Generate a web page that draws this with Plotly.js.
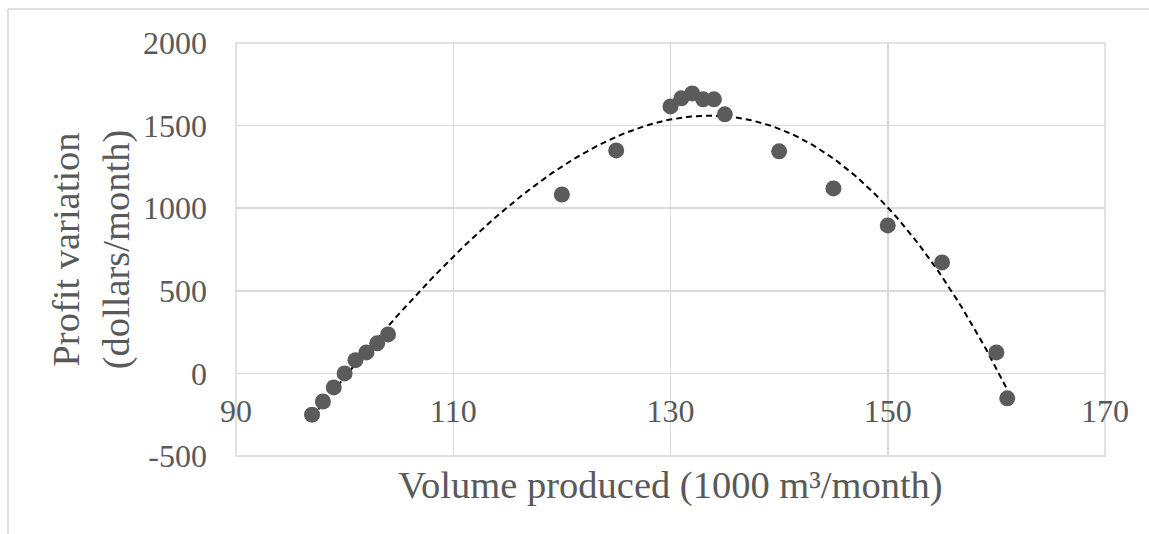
<!DOCTYPE html>
<html>
<head>
<meta charset="utf-8">
<script src="https://cdn.plot.ly/plotly-3.0.1.min.js"></script>
<style>
  html, body { margin: 0; padding: 0; background: #ffffff; }
  #chart { width: 1149px; height: 534px; }
</style>
</head>
<body>
<div id="chart"></div>
<script>
// Data
const volume = [97, 98, 99, 100, 101, 102, 103, 104, 120, 125, 130, 131, 132, 133, 134, 135, 140, 145, 150, 155, 160, 161];
const profit = [-250, -170, -85, 0, 80, 127, 182, 236, 1083, 1350, 1616, 1665, 1695, 1659, 1659, 1568, 1344, 1120, 896, 672, 127, -151];
const xTicks = [90, 110, 130, 150, 170];
const yTicks = [-500, 0, 500, 1000, 1500, 2000];
const xTitle = 'Volume produced (1000 m³/month)';
const yTitle = 'Profit variation<br>(dollars/month)';
const trendOrder = 3;

// Polynomial least-squares trendline computed from the data
function polyFit(xs, ys, order) {
  const c = 130, s = 30;
  const n = order + 1;
  const A = Array.from({length: n}, () => new Array(n + 1).fill(0));
  xs.forEach((x, k) => {
    const t = (x - c) / s;
    const p = [];
    for (let i = 0; i < n; i++) p.push(Math.pow(t, i));
    for (let i = 0; i < n; i++) {
      for (let j = 0; j < n; j++) A[i][j] += p[i] * p[j];
      A[i][n] += p[i] * ys[k];
    }
  });
  for (let i = 0; i < n; i++) {
    let m = i;
    for (let r = i + 1; r < n; r++) if (Math.abs(A[r][i]) > Math.abs(A[m][i])) m = r;
    [A[i], A[m]] = [A[m], A[i]];
    for (let r = 0; r < n; r++) {
      if (r === i) continue;
      const f = A[r][i] / A[i][i];
      for (let j = i; j <= n; j++) A[r][j] -= f * A[i][j];
    }
  }
  const coef = A.map((row, i) => row[n] / row[i]);
  return x => { const t = (x - c) / s; let v = 0; for (let i = n - 1; i >= 0; i--) v = v * t + coef[i]; return v; };
}
const f = polyFit(volume, profit, trendOrder);
const xmin = Math.min(...volume), xmax = Math.max(...volume);
const tx = [], ty = [];
for (let i = 0; i <= 200; i++) { const x = xmin + (xmax - xmin) * i / 200; tx.push(x); ty.push(f(x)); }

const gridC = '#d9d9d9';
const txtC = '#595959';
const fontFam = '"Liberation Serif", "Times New Roman", serif';

const traces = [
  {
    x: tx, y: ty, type: 'scatter', mode: 'lines',
    line: {color: '#000000', width: 2, dash: '6px,4px'},
    hoverinfo: 'skip', showlegend: false
  },
  {
    x: volume, y: profit, type: 'scatter', mode: 'markers',
    marker: {color: '#5b5b5b', size: 16, line: {width: 0}},
    showlegend: false
  }
];

const layout = {
  width: 1149, height: 534,
  margin: {l: 236, r: 44, t: 43, b: 78},
  paper_bgcolor: '#ffffff', plot_bgcolor: '#ffffff',
  font: {family: fontFam, color: txtC, size: 32},
  showlegend: false,
  xaxis: {
    range: [90, 170], tickvals: xTicks, ticktext: xTicks.map(String),
    anchor: 'free', position: 0.2,
    showgrid: true, gridcolor: gridC, gridwidth: 1.5,
    zeroline: false, showline: false, ticks: '',
    ticklabelstandoff: 16,
    tickfont: {size: 32, color: txtC, family: fontFam},
    title: {text: xTitle, font: {size: 38.5, color: txtC, family: fontFam}, standoff: 42},
    automargin: false
  },
  yaxis: {
    range: [-500, 2000], tickvals: yTicks, ticktext: yTicks.map(String),
    showgrid: true, gridcolor: gridC, gridwidth: 1.5,
    zeroline: false, showline: false, ticks: '',
    ticklabelstandoff: 28,
    tickfont: {size: 32, color: txtC, family: fontFam},
    title: {text: yTitle, font: {size: 38.5, color: txtC, family: fontFam}, standoff: 1},
    automargin: false
  },
  shapes: [
    {type: 'rect', xref: 'paper', yref: 'paper', x0: 0, x1: 1, y0: 0, y1: 1,
     line: {color: gridC, width: 1.5}, layer: 'below'},
    {type: 'line', xref: 'paper', yref: 'paper', x0: -0.2624, x1: 1.06, y0: 1.0823, y1: 1.0823,
     line: {color: gridC, width: 1.5}},
    {type: 'line', xref: 'paper', yref: 'paper', x0: -0.2624, x1: -0.2624, y0: -0.2, y1: 1.0823,
     line: {color: gridC, width: 1.5}}
  ]
};

Plotly.newPlot('chart', traces, layout, {displayModeBar: false, staticPlot: true});
</script>
</body>
</html>
